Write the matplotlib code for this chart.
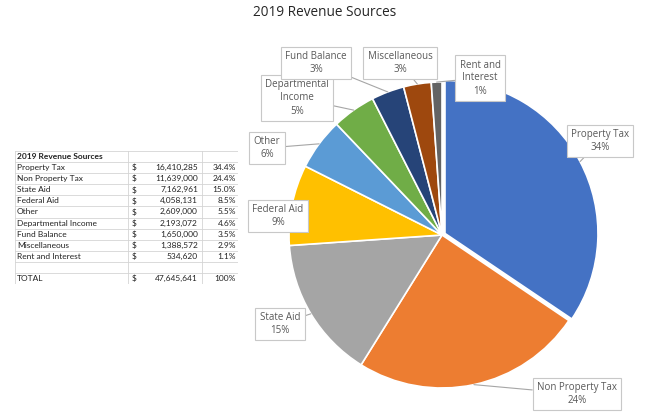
import matplotlib
matplotlib.use("Agg")
import matplotlib.pyplot as plt
import numpy as np

plt.rcParams['font.family'] = ['Open Sans', 'DejaVu Sans']

categories = ["Property Tax", "Non Property Tax", "State Aid", "Federal Aid", "Other",
              "Departmental Income", "Fund Balance", "Miscellaneous", "Rent and Interest"]
amounts = [16410285, 11639000, 7162961, 4058131, 2609000, 2193072, 1650000, 1388572, 534620]
table_pct = ["34.4%", "24.4%", "15.0%", "8.5%", "5.5%", "4.6%", "3.5%", "2.9%", "1.1%"]
pie_labels = ["Property Tax\n34%", "Non Property Tax\n24%", "State Aid\n15%", "Federal Aid\n9%",
              "Other\n6%", "Departmental\nIncome\n5%", "Fund Balance\n3%", "Miscellaneous\n3%",
              "Rent and\nInterest\n1%"]
total_amount = 47645641
total_pct = "100%"
table_title = "2019 Revenue Sources"
colors = ["#4472C4", "#ED7D31", "#A5A5A5", "#FFC000", "#5B9BD5", "#70AD47",
          "#264478", "#9E480E", "#636363"]

W, H = 650, 416
fig = plt.figure(figsize=(6.5, 4.16), dpi=100)
fig.patch.set_facecolor("white")

fig.text(325 / W, 1 - 12 / H, "2019 Revenue Sources", ha="center", va="center",
         fontsize=9.8, color="#262626")

# ---- pie ----
cx, cy, R = 442, 235, 153
ax = fig.add_axes([(cx - R) / W, (H - cy - R) / H, 2 * R / W, 2 * R / H])
explode = [0.022] + [0] * (len(amounts) - 1)
wedges, _ = ax.pie(amounts, colors=colors, startangle=90, counterclock=False,
                   explode=explode, radius=1.0,
                   wedgeprops=dict(edgecolor="white", linewidth=1.2))
ax.set_xlim(-1, 1)
ax.set_ylim(-1, 1)
ax.set_aspect("auto")
ax.axis("off")

# label box centres in pixels from top-left (layout)
label_pos = [(600, 141), (577, 394), (280, 324), (278, 216), (267, 148),
             (297, 98), (316, 63), (400, 63), (480, 78)]
for w, lab, (px, py), e in zip(wedges, pie_labels, label_pos, explode):
    ang = np.deg2rad((w.theta1 + w.theta2) / 2)
    r = 1.0 + e
    xy = (r * np.cos(ang), r * np.sin(ang))
    ax.annotate(lab, xy=xy, xycoords="data", xytext=(px, H - py),
                textcoords="figure pixels", ha="center", va="center",
                fontsize=7, color="#595959", linespacing=1.25,
                bbox=dict(boxstyle="square,pad=0.45", fc="white", ec="#C8C8C8", lw=0.8),
                arrowprops=dict(arrowstyle="-", color="#A6A6A6", lw=0.8,
                                shrinkA=0, shrinkB=0),
                annotation_clip=False)

# ---- table ----
tx0, tx1, ty0, ty1 = 15, 238, 151, 284
tab = fig.add_axes([tx0 / W, (H - ty1) / H, (tx1 - tx0) / W, (ty1 - ty0) / H])
tab.set_xlim(tx0, tx1)
tab.set_ylim(ty1, ty0)
tab.axis("off")
rows = [(table_title, "", "", "")]
for c, a, p in zip(categories, amounts, table_pct):
    rows.append((c, "$", f"{a:,}", p))
rows.append(("", "", "", ""))
rows.append(("TOTAL", "$", f"{total_amount:,}", total_pct))
n = len(rows)
rh = (ty1 - ty0) / n
col_x = [tx0, 128, 202, tx1]
gc = "#D4D4D4"
for i in range(n + 1):
    tab.plot([tx0, tx1], [ty0 + i * rh] * 2, color=gc, lw=0.6)
for x in col_x:
    tab.plot([x, x], [ty0, ty1], color=gc, lw=0.6)
fs = 6.0
tf = ['Lato', 'DejaVu Sans']
for i, (c, d, a, p) in enumerate(rows):
    y = ty0 + (i + 0.5) * rh
    tab.text(tx0 + 2, y, c, ha="left", va="center", fontsize=fs, color="#222222",
             family=tf, fontweight="bold" if i == 0 else "normal")
    tab.text(col_x[1] + 4, y, d, ha="left", va="center", fontsize=fs, color="#222222", family=tf)
    tab.text(col_x[2] - 4, y, a, ha="right", va="center", fontsize=fs, color="#222222", family=tf)
    tab.text(col_x[3] - 2, y, p, ha="right", va="center", fontsize=fs, color="#222222", family=tf)

fig.savefig("out.png", dpi=100, facecolor="white")
